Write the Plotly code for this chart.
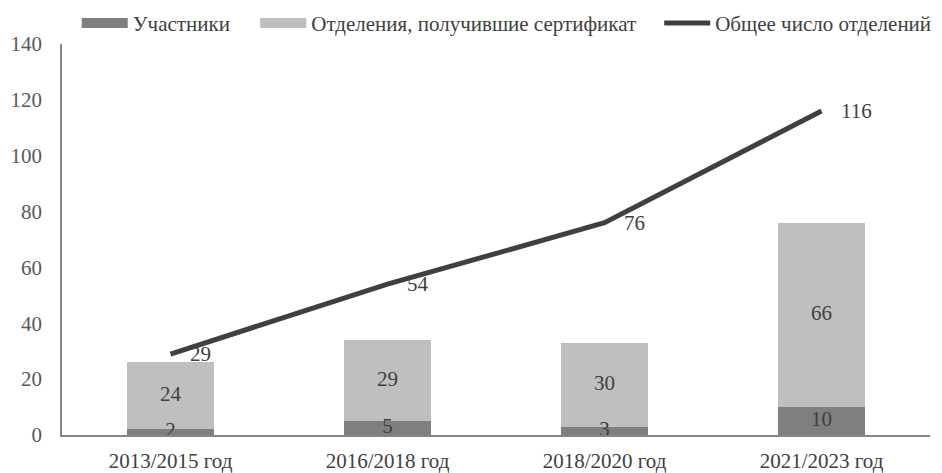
import plotly.graph_objects as go

categories = ["2013/2015 год", "2016/2018 год", "2018/2020 год", "2021/2023 год"]
participants = [2, 5, 3, 10]
certified = [24, 29, 30, 66]
total = [29, 54, 76, 116]

names = ["Участники", "Отделения, получившие сертификат", "Общее число отделений"]
colors = ["#7f7f7f", "#bfbfbf", "#404040"]

FONT = "Liberation Serif"
FS = 21
text_color = "#404040"
tick_color = "#595959"

fig = go.Figure()
fig.add_trace(go.Bar(x=categories, y=participants, name=names[0], showlegend=False,
                     marker=dict(color=colors[0], line=dict(width=0)), width=0.4))
fig.add_trace(go.Bar(x=categories, y=certified, name=names[1], showlegend=False,
                     marker=dict(color=colors[1], line=dict(width=0)), width=0.4))
fig.add_trace(go.Scatter(x=categories, y=total, name=names[2], mode="lines",
                         legend="legend3",
                         line=dict(color=colors[2], width=5)))

# legend proxies for bars (wide rectangles)
fig.add_trace(go.Scatter(x=[None], y=[None], mode="lines", name=names[0],
                         legend="legend", line=dict(color=colors[0], width=10)))
fig.add_trace(go.Scatter(x=[None], y=[None], mode="lines", name=names[1],
                         legend="legend2", line=dict(color=colors[1], width=10)))

# segment labels
fig.add_trace(go.Scatter(x=categories, y=[p / 2 for p in participants], mode="text",
                         text=[str(v) for v in participants], showlegend=False,
                         textfont=dict(size=FS, color=text_color, family=FONT),
                         hoverinfo="skip"))
fig.add_trace(go.Scatter(x=categories, y=[p + c / 2 for p, c in zip(participants, certified)],
                         mode="text", text=[str(v) for v in certified], showlegend=False,
                         textfont=dict(size=FS, color=text_color, family=FONT),
                         hoverinfo="skip"))

# line value labels
for c, v in zip(categories, total):
    fig.add_annotation(x=c, y=v, text=str(v), showarrow=False, xanchor="left",
                       yanchor="middle", xshift=17,
                       font=dict(size=FS, color=text_color, family=FONT))

legend_common = dict(orientation="h", yanchor="middle", y=1.053, xanchor="left",
                     font=dict(size=FS, color=text_color, family=FONT),
                     bgcolor="rgba(0,0,0,0)", itemwidth=46, borderwidth=0)

fig.update_layout(
    width=934, height=465,
    barmode="stack",
    plot_bgcolor="white", paper_bgcolor="white",
    margin=dict(l=54, r=12, t=36, b=38, autoexpand=False),
    font=dict(family=FONT, size=FS, color=tick_color),
    legend=dict(x=0.017, **legend_common),
    legend2=dict(x=0.2226, **legend_common),
    legend3=dict(x=0.688, **legend_common),
    showlegend=True,
)
fig.update_yaxes(range=[0, 140], dtick=20, showgrid=False, zeroline=False,
                 showline=True, linecolor="#868686", linewidth=1.5, automargin=False,
                 ticks="", ticklabelstandoff=14,
                 tickfont=dict(size=FS, color=tick_color, family=FONT))
fig.update_xaxes(showgrid=False, showline=True, linecolor="#868686", linewidth=1.5,
                 automargin=False, ticks="", ticklabelstandoff=6,
                 tickfont=dict(size=FS, color=text_color, family=FONT))

fig.write_html("out.html")
